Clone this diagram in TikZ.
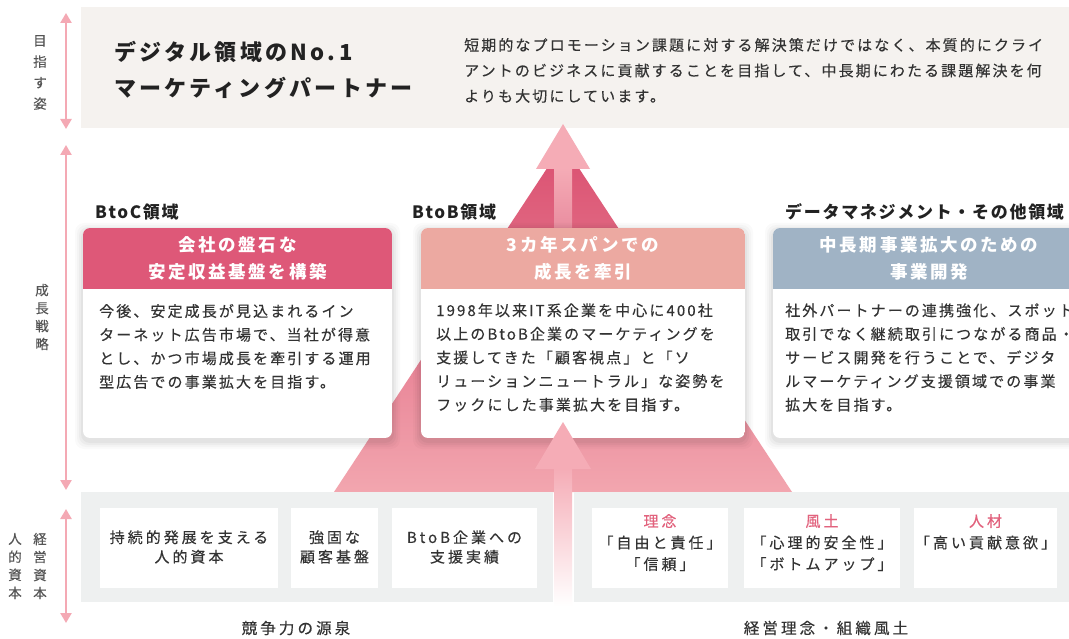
\documentclass[tikz,border=0pt]{standalone}
\usepackage{fontspec}
\setmainfont{Noto Sans CJK JP}
\newfontfamily\fA[LetterSpace=14,FakeBold=0.25]{Noto Sans CJK JP}
\newfontfamily\fB[LetterSpace=15]{Noto Sans CJK JP}
\newfontfamily\fC[LetterSpace=10]{Noto Sans CJK JP}
\newfontfamily\fD[LetterSpace=20,FakeBold=0.3]{Noto Sans CJK JP}
\usetikzlibrary{arrows.meta}
\definecolor{bandtop}{HTML}{F5F2EF}
\definecolor{bandbot}{HTML}{EEF0F0}
\definecolor{hdrA}{HTML}{DE5878}
\definecolor{hdrB}{HTML}{ECA9A1}
\definecolor{hdrC}{HTML}{A0B3C5}
\definecolor{pinkarrow}{HTML}{F5ACB6}
\definecolor{stemlow}{HTML}{E98C9F}
\definecolor{sidearrow}{HTML}{F4A9B4}
\definecolor{txt}{HTML}{333333}
\definecolor{dark}{HTML}{222222}
\definecolor{lbl}{HTML}{555555}
\definecolor{pinktxt}{HTML}{E2627D}
\definecolor{triTop}{HTML}{DA4F70}
\definecolor{triMid}{HTML}{E06A85}
\definecolor{triBot}{HTML}{F2A6AF}
\newcommand{\cardshadow}[4]{%
  \foreach \s/\o in {8/0.02,6/0.025,4/0.03,2/0.035}{%
    \fill[black,opacity=\o,rounded corners=9] (#1-\s,#2-\s+3) rectangle (#3+\s,#4+\s+3);}}
\newcommand{\infocard}[3]{%
  \begin{scope}
    \clip[rounded corners=7] (#1,228) rectangle (#2,438);
    \fill[white] (#1,228) rectangle (#2,438);
    \fill[#3] (#1,228) rectangle (#2,289);
  \end{scope}}
\tikzset{
  sidearr/.style={draw=sidearrow, line width=2.6pt,
    {Triangle[width=11pt,length=10pt]}-{Triangle[width=11pt,length=10pt]}},
  vlabel/.style={font=\fA\fontsize{13.5}{21}\selectfont, text=lbl, align=center, inner sep=0},
  vlabelb/.style={font=\fA\fontsize{13.5}{18}\selectfont, text=lbl, align=center, inner sep=0},
  titletext/.style={font=\fB\bfseries\fontsize{22}{36}\selectfont, text=dark, align=left, anchor=west, inner sep=0},
  paratext/.style={font=\fA\fontsize{15}{25.5}\selectfont, text=txt, align=left, anchor=west, inner sep=0},
  secthead/.style={font=\fC\bfseries\fontsize{17}{20}\selectfont, text=dark, anchor=west, inner sep=0},
  cardhead/.style={font=\fB\bfseries\fontsize{17.5}{27}\selectfont, text=white, align=center, inner sep=0},
  bodytext/.style={font=\fA\fontsize{15}{23.6}\selectfont, text=txt, align=left, anchor=west, inner sep=0},
  boxtext/.style={font=\fD\fontsize{15}{19.5}\selectfont, text=txt, align=center, inner sep=0},
  valtext/.style={font=\fD\fontsize{15}{21.5}\selectfont, text=txt, align=center, inner sep=0, anchor=north},
  foottext/.style={font=\fD\fontsize{15.5}{20}\selectfont, text=txt, inner sep=0},
}
\begin{document}
\begin{tikzpicture}[x=1pt,y=-1pt]
\useasboundingbox (0,0) rectangle (1069,639);
\clip (0,0) rectangle (1069,639);
\fill[white] (0,0) rectangle (1069,639);

% top band
\fill[bandtop] (81,7) rectangle (1069,128);

% pyramid
\shade[top color=triTop, middle color=triMid, bottom color=triBot]
  (563,144) -- (792,492) -- (334,492) -- cycle;

% upper arrow
\shade[top color=pinkarrow, bottom color=stemlow] (554,168) rectangle (572,230);
\fill[pinkarrow] (563,124) -- (590,169) -- (536,169) -- cycle;

% cards
\cardshadow{83}{228}{392}{438}
\cardshadow{421}{228}{745}{438}
\cardshadow{773}{228}{1090}{438}
\infocard{83}{392}{hdrA}
\infocard{421}{745}{hdrB}
\infocard{773}{1090}{hdrC}

% bottom band
\fill[bandbot] (81,492) rectangle (553,602);
\fill[bandbot] (574,492) rectangle (1069,602);
\fill[white] (100,508) rectangle (278,588);
\fill[white] (291,508) rectangle (378,588);
\fill[white] (392,508) rectangle (537,588);
\fill[white] (592,508) rectangle (728,588);
\fill[white] (744,508) rectangle (900,588);
\fill[white] (914,508) rectangle (1057,588);

% lower arrow
\shade[top color=pinkarrow, bottom color=white] (554,468) rectangle (572,606);
\fill[pinkarrow] (563,422) -- (591,469) -- (535,469) -- cycle;

% side arrows
\coordinate (a1t) at (66,13);  \coordinate (a1b) at (66,129);
\coordinate (a2t) at (66,145); \coordinate (a2b) at (66,490);
\coordinate (a3t) at (66,509); \coordinate (a3b) at (66,623);
\draw[sidearr] (a1t) -- (a1b);
\draw[sidearr] (a2t) -- (a2b);
\draw[sidearr] (a3t) -- (a3b);

\node[vlabel] (lab1) at (40,72.5) {目\\指\\す\\姿};
\node[vlabelb] (lab2) at (42,317) {成\\長\\戦\\略};
\node[vlabelb] (lab3a) at (40,566) {経\\営\\資\\本};
\node[vlabelb] (lab3b) at (15,566) {人\\的\\資\\本};

% top texts
\node[titletext] (title) at (114,70) {デジタル領域のNo.1\\マーケティングパートナー};
\node[paratext] (para) at (464,70.5) {短期的なプロモーション課題に対する解決策だけではなく、本質的にクライ\\アントのビジネスに貢献することを目指して、中長期にわたる課題解決を何\\よりも大切にしています。};

% section heads
\node[secthead] (s1) at (95,212) {BtoC領域};
\node[secthead] (s2) at (412,212) {BtoB領域};
\node[secthead] (s3) at (785,212) {データマネジメント・その他領域};

% card headers
\node[cardhead] (h1) at (237.5,258.5) {会社の盤石な\\安定収益基盤を構築};
\node[cardhead] (h2) at (583,258.5) {3カ年スパンでの\\成長を牽引};
\node[cardhead] (h3) at (929,258.5) {中長期事業拡大のための\\事業開発};

% card bodies
\node[bodytext] (b1) at (99,346.5) {今後、安定成長が見込まれるイン\\ターネット広告市場で、当社が得意\\とし、かつ市場成長を牽引する運用\\型広告での事業拡大を目指す。};
\node[bodytext] (b2) at (436,357.5) {1998年以来IT系企業を中心に400社\\以上のBtoB企業のマーケティングを\\支援してきた「顧客視点」と「ソ\\リューションニュートラル」な姿勢を\\フックにした事業拡大を目指す。};
\node[bodytext] (b3) at (785,357.5) {社外パートナーの連携強化、スポット\\取引でなく継続取引につながる商品・\\サービス開発を行うことで、デジタ\\ルマーケティング支援領域での事業\\拡大を目指す。};

% bottom boxes
\node[boxtext] (k1) at (189,547) {持続的発展を支える\\人的資本};
\node[boxtext] (k2) at (334.5,547) {強固な\\顧客基盤};
\node[boxtext] (k3) at (464.5,547) {BtoB企業への\\支援実績};
\node[valtext] (v1) at (660,514) {\textcolor{pinktxt}{理念}\\「自由と責任」\\「信頼」};
\node[valtext] (v2) at (822,514) {\textcolor{pinktxt}{風土}\\「心理的安全性」\\「ボトムアップ」};
\node[valtext] (v3) at (985.5,514) {\textcolor{pinktxt}{人材}\\「高い貢献意欲」};

% footers
\node[foottext] (f1) at (296,628) {競争力の源泉};
\node[foottext] (f2) at (826,628) {経営理念・組織風土};
\end{tikzpicture}
\end{document}
